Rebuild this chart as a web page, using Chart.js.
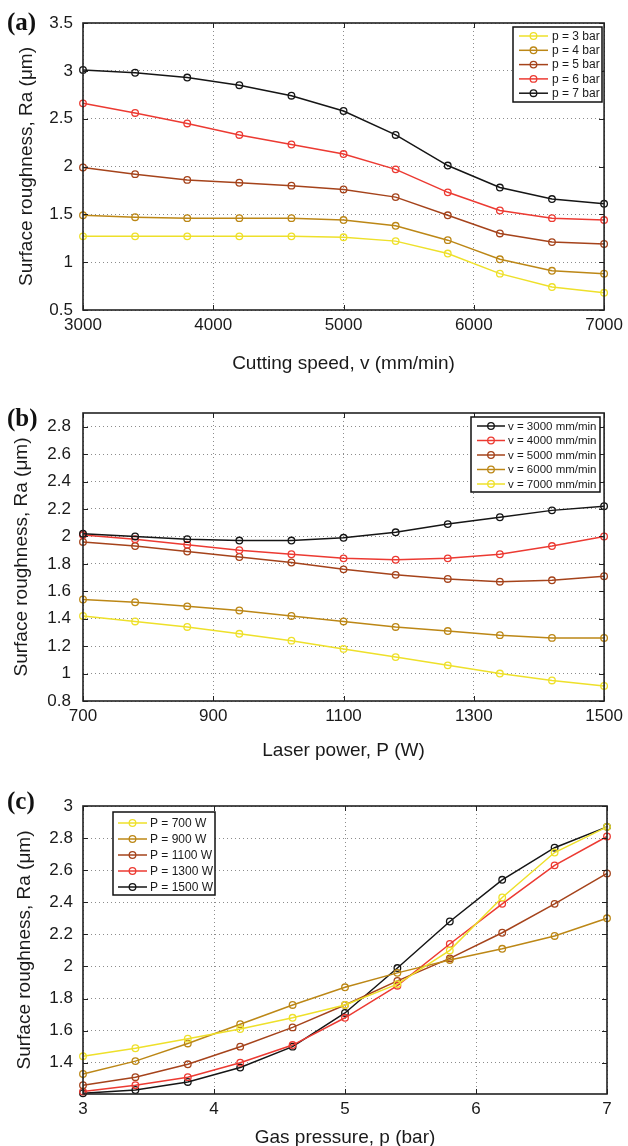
<!DOCTYPE html>
<html>
<head>
<meta charset="utf-8">
<script src="https://cdn.jsdelivr.net/npm/chart.js@4.4.1/dist/chart.umd.min.js"></script>
<style>
  html, body { margin: 0; padding: 0; background: #fff; width: 628px; height: 1146px; overflow: hidden; }
  .panel { position: absolute; left: 0; width: 628px; height: 392px; }
  .tag { position: absolute; left: 7px; font: bold 25px 'Liberation Serif', 'Times New Roman', serif; line-height: 1; color: #111; }
</style>
</head>
<body>
<div class="panel" style="top:0px"><canvas id="chartA" width="628" height="392"></canvas></div>
<div class="panel" style="top:390px"><canvas id="chartB" width="628" height="392"></canvas></div>
<div class="panel" style="top:783px"><canvas id="chartC" width="628" height="392"></canvas></div>
<div class="tag" style="top:9px">(a)</div>
<div class="tag" style="top:405px">(b)</div>
<div class="tag" style="top:788px">(c)</div>
<script>
// (a) cutting speed vs Ra, one line per gas pressure
const speed = [3000, 3400, 3800, 4200, 4600, 5000, 5400, 5800, 6200, 6600, 7000];
const aLabels = ['p = 3 bar', 'p = 4 bar', 'p = 5 bar', 'p = 6 bar', 'p = 7 bar'];
const aP3 = [1.27, 1.27, 1.27, 1.27, 1.27, 1.26, 1.22, 1.09, 0.88, 0.74, 0.68];
const aP4 = [1.49, 1.47, 1.46, 1.46, 1.46, 1.44, 1.38, 1.23, 1.03, 0.91, 0.88];
const aP5 = [1.99, 1.92, 1.86, 1.83, 1.80, 1.76, 1.68, 1.49, 1.30, 1.21, 1.19];
const aP6 = [2.66, 2.56, 2.45, 2.33, 2.23, 2.13, 1.97, 1.73, 1.54, 1.46, 1.44];
const aP7 = [3.01, 2.98, 2.93, 2.85, 2.74, 2.58, 2.33, 2.01, 1.78, 1.66, 1.61];
const aXTicks = [3000, 4000, 5000, 6000, 7000];
const aYTicks = [0.5, 1, 1.5, 2, 2.5, 3, 3.5];

// (b) laser power vs Ra, one line per cutting speed
const power = [700, 780, 860, 940, 1020, 1100, 1180, 1260, 1340, 1420, 1500];
const bLabels = ['v = 3000 mm/min', 'v = 4000 mm/min', 'v = 5000 mm/min', 'v = 6000 mm/min', 'v = 7000 mm/min'];
const bV3000 = [2.02, 2.00, 1.98, 1.97, 1.97, 1.99, 2.03, 2.09, 2.14, 2.19, 2.22];
const bV4000 = [2.01, 1.98, 1.94, 1.90, 1.87, 1.84, 1.83, 1.84, 1.87, 1.93, 2.00];
const bV5000 = [1.96, 1.93, 1.89, 1.85, 1.81, 1.76, 1.72, 1.69, 1.67, 1.68, 1.71];
const bV6000 = [1.54, 1.52, 1.49, 1.46, 1.42, 1.38, 1.34, 1.31, 1.28, 1.26, 1.26];
const bV7000 = [1.42, 1.38, 1.34, 1.29, 1.24, 1.18, 1.12, 1.06, 1.00, 0.95, 0.91];
const bXTicks = [700, 900, 1100, 1300, 1500];
const bYTicks = [0.8, 1, 1.2, 1.4, 1.6, 1.8, 2, 2.2, 2.4, 2.6, 2.8];

// (c) gas pressure vs Ra, one line per laser power
const pressure = [3, 3.4, 3.8, 4.2, 4.6, 5, 5.4, 5.8, 6.2, 6.6, 7];
const cLabels = ['P = 700 W', 'P = 900 W', 'P = 1100 W', 'P = 1300 W', 'P = 1500 W'];
const cP700 = [1.44, 1.49, 1.55, 1.61, 1.68, 1.76, 1.89, 2.10, 2.43, 2.71, 2.87];
const cP900 = [1.33, 1.41, 1.52, 1.64, 1.76, 1.87, 1.96, 2.04, 2.11, 2.19, 2.30];
const cP1100 = [1.26, 1.31, 1.39, 1.50, 1.62, 1.76, 1.91, 2.05, 2.21, 2.39, 2.58];
const cP1300 = [1.22, 1.26, 1.31, 1.40, 1.51, 1.68, 1.88, 2.14, 2.39, 2.63, 2.81];
const cP1500 = [1.21, 1.23, 1.28, 1.37, 1.50, 1.71, 1.99, 2.28, 2.54, 2.74, 2.87];
const cXTicks = [3, 4, 5, 6, 7];
const cYTicks = [1.4, 1.6, 1.8, 2, 2.2, 2.4, 2.6, 2.8, 3];

const YELLOW = '#EEE02A';
const GOLD = '#BC8716';
const BROWN = '#A5431B';
const RED = '#EC3A32';
const BLACK = '#151515';

const FONT = "'Liberation Sans', Arial, Helvetica, sans-serif";
const TEXT = '#1a1a1a';

function series(label, xs, ys, color) {
  return {
    label: label,
    data: xs.map((x, i) => ({ x: x, y: ys[i] })),
    borderColor: color,
    borderWidth: 1.5,
    pointRadius: 3.3,
    pointBorderWidth: 1.3,
    pointBorderColor: color,
    pointBackgroundColor: 'rgba(0,0,0,0)',
    fill: false,
    tension: 0,
    clip: false
  };
}

// black frame with inward ticks on all four sides, like the matlab box
const framePlugin = {
  id: 'frame',
  afterDatasetsDraw(chart) {
    const { ctx, chartArea: a, scales } = chart;
    ctx.save();
    ctx.strokeStyle = '#222';
    ctx.lineWidth = 1;
    ctx.beginPath();
    scales.x.ticks.forEach(t => {
      const px = Math.round(scales.x.getPixelForValue(t.value)) + 0.5;
      ctx.moveTo(px, a.bottom); ctx.lineTo(px, a.bottom - 5);
      ctx.moveTo(px, a.top); ctx.lineTo(px, a.top + 5);
    });
    scales.y.ticks.forEach(t => {
      const py = Math.round(scales.y.getPixelForValue(t.value)) + 0.5;
      ctx.moveTo(a.left, py); ctx.lineTo(a.left + 5, py);
      ctx.moveTo(a.right, py); ctx.lineTo(a.right - 5, py);
    });
    ctx.stroke();
    ctx.lineWidth = 1.6;
    ctx.strokeRect(a.left, a.top, a.right - a.left, a.bottom - a.top);
    ctx.restore();
  }
};

// legend box drawn inside the plot
const boxLegendPlugin = {
  id: 'boxLegend',
  afterDraw(chart, args, o) {
    const ctx = chart.ctx;
    ctx.save();
    ctx.fillStyle = '#fff';
    ctx.fillRect(o.x, o.y, o.w, o.h);
    ctx.strokeStyle = '#111';
    ctx.lineWidth = 1.5;
    ctx.strokeRect(o.x, o.y, o.w, o.h);
    ctx.font = o.size + 'px ' + FONT;
    ctx.textBaseline = 'middle';
    chart.data.datasets.forEach((ds, i) => {
      const y = o.y + o.first + i * o.rowH;
      ctx.strokeStyle = ds.borderColor;
      ctx.lineWidth = 1.5;
      ctx.beginPath();
      ctx.moveTo(o.x + o.lineX0, y);
      ctx.lineTo(o.x + o.lineX1, y);
      ctx.stroke();
      ctx.beginPath();
      ctx.arc(o.x + (o.lineX0 + o.lineX1) / 2, y, 3.3, 0, Math.PI * 2);
      ctx.lineWidth = 1.3;
      ctx.stroke();
      ctx.fillStyle = TEXT;
      ctx.fillText(ds.label, o.x + o.textX, y + 0.5);
    });
    ctx.restore();
  }
};

function fixedTicks(values) {
  return scale => {
    scale.ticks = values.map(v => ({ value: v }));
  };
}

function makeChart(id, c) {
  return new Chart(document.getElementById(id).getContext('2d'), {
    type: 'line',
    data: { datasets: c.datasets },
    plugins: [framePlugin, boxLegendPlugin],
    options: {
      responsive: false,
      animation: false,
      devicePixelRatio: 1,
      layout: { padding: { top: 23, right: 21, bottom: 0, left: 0 } },
      plugins: {
        legend: { display: false },
        tooltip: { enabled: false },
        boxLegend: c.legend
      },
      scales: {
        x: {
          type: 'linear',
          min: c.xMin, max: c.xMax,
          afterFit: s => { s.height = c.xAxisH; },
          afterBuildTicks: fixedTicks(c.xTicks),
          grid: { color: 'rgba(0,0,0,0.45)', lineWidth: 1, drawTicks: false },
          border: { display: false, dash: [1, 3] },
          ticks: {
            autoSkip: false, maxRotation: 0, padding: 5,
            color: TEXT, font: { family: FONT, size: 17 },
            callback: v => String(+v.toFixed(2))
          },
          title: {
            display: true, text: c.xTitle, color: TEXT,
            font: { family: FONT, size: 19 },
            padding: { top: 0, bottom: c.xTitlePad }
          }
        },
        y: {
          min: c.yMin, max: c.yMax,
          afterFit: s => { s.width = 83; },
          afterBuildTicks: fixedTicks(c.yTicks),
          grid: { color: 'rgba(0,0,0,0.45)', lineWidth: 1, drawTicks: false },
          border: { display: false, dash: [1, 3] },
          ticks: {
            autoSkip: false, padding: c.yTickPad,
            color: TEXT, font: { family: FONT, size: 17 },
            callback: v => String(+v.toFixed(2))
          },
          title: {
            display: true, text: 'Surface roughness, Ra (μm)', color: TEXT,
            font: { family: FONT, size: 19 },
            padding: { top: c.yTitlePad, bottom: 0 }
          }
        }
      }
    }
  });
}

makeChart('chartA', {
  datasets: [
    series(aLabels[0], speed, aP3, YELLOW),
    series(aLabels[1], speed, aP4, GOLD),
    series(aLabels[2], speed, aP5, BROWN),
    series(aLabels[3], speed, aP6, RED),
    series(aLabels[4], speed, aP7, BLACK)
  ],
  xMin: 3000, xMax: 7000, xTicks: aXTicks,
  yMin: 0.5, yMax: 3.5, yTicks: aYTicks,
  xAxisH: 82, xTitle: 'Cutting speed, v (mm/min)', xTitlePad: 17,
  yTickPad: 10, yTitlePad: 15,
  legend: { x: 513, y: 27, w: 89, h: 75, first: 9, rowH: 14.3, lineX0: 6, lineX1: 35, textX: 39, size: 12 }
});

makeChart('chartB', {
  datasets: [
    series(bLabels[0], power, bV3000, BLACK),
    series(bLabels[1], power, bV4000, RED),
    series(bLabels[2], power, bV5000, BROWN),
    series(bLabels[3], power, bV6000, GOLD),
    series(bLabels[4], power, bV7000, YELLOW)
  ],
  xMin: 700, xMax: 1500, xTicks: bXTicks,
  yMin: 0.8, yMax: 2.9, yTicks: bYTicks,
  xAxisH: 81, xTitle: 'Laser power, P (W)', xTitlePad: 20,
  yTickPad: 12, yTitlePad: 10,
  legend: { x: 471, y: 27, w: 129, h: 75, first: 9, rowH: 14.5, lineX0: 6, lineX1: 34, textX: 37, size: 11.5 }
});

makeChart('chartC', {
  datasets: [
    series(cLabels[0], pressure, cP700, YELLOW),
    series(cLabels[1], pressure, cP900, GOLD),
    series(cLabels[2], pressure, cP1100, BROWN),
    series(cLabels[3], pressure, cP1300, RED),
    series(cLabels[4], pressure, cP1500, BLACK)
  ],
  xMin: 3, xMax: 7, xTicks: cXTicks,
  yMin: 1.205, yMax: 3, yTicks: cYTicks,
  xAxisH: 81, xTitle: 'Gas pressure, p (bar)', xTitlePad: 26,
  yTickPad: 10, yTitlePad: 13,
  legend: { x: 113, y: 29, w: 102, h: 83, first: 11, rowH: 16, lineX0: 5, lineX1: 34, textX: 37, size: 12 }
});
</script>
</body>
</html>
